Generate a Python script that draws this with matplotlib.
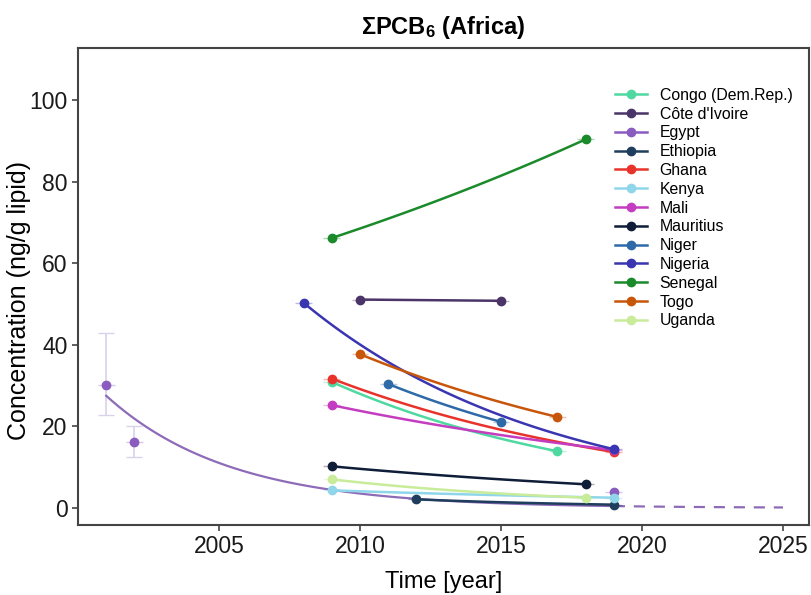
import numpy as np
import matplotlib
matplotlib.use("Agg")
import matplotlib.pyplot as plt
from matplotlib.lines import Line2D

plt.rcParams['font.family'] = ['Liberation Sans', 'DejaVu Sans']
plt.rcParams['mathtext.fontset'] = 'custom'
plt.rcParams['mathtext.rm'] = 'Liberation Sans'
plt.rcParams['mathtext.bf'] = 'Liberation Sans:bold'

countries = ['Congo (Dem.Rep.)', "Côte d'Ivoire", 'Egypt', 'Ethiopia', 'Ghana', 'Kenya',
             'Mali', 'Mauritius', 'Niger', 'Nigeria', 'Senegal', 'Togo', 'Uganda']
colors = ['#4fd8a0', '#4b3568', '#8a5cc0', '#1f3d5c', '#e8322a', '#8fd6ea',
          '#c43cc0', '#0f1d38', '#2e6aa8', '#3a35b0', '#1a8a2a', '#c8560a', '#c8ec9a']

# measured points (year, value) per country
years = {
    'Congo (Dem.Rep.)': [2009, 2017],
    "Côte d'Ivoire": [2010, 2015],
    'Egypt': [2001, 2002, 2019],
    'Ethiopia': [2012, 2019],
    'Ghana': [2009, 2019],
    'Kenya': [2009, 2019],
    'Mali': [2009, 2019],
    'Mauritius': [2009, 2018],
    'Niger': [2011, 2015],
    'Nigeria': [2008, 2019],
    'Senegal': [2009, 2018],
    'Togo': [2010, 2017],
    'Uganda': [2009, 2018],
}
values = {
    'Congo (Dem.Rep.)': [30.9, 13.9],
    "Côte d'Ivoire": [51.1, 50.8],
    'Egypt': [30.1, 16.1, 3.8],
    'Ethiopia': [2.1, 0.8],
    'Ghana': [31.7, 13.7],
    'Kenya': [4.3, 2.5],
    'Mali': [25.2, 14.2],
    'Mauritius': [10.2, 5.8],
    'Niger': [30.4, 21.1],
    'Nigeria': [50.3, 14.4],
    'Senegal': [66.2, 90.4],
    'Togo': [37.7, 22.3],
    'Uganda': [7.0, 2.5],
}
egypt_err_low = [22.7, 12.5]
egypt_err_high = [42.8, 20.0]

# Egypt trend: fitted part and projection (start/end)
egypt_fit_years = [2001, 2019]
egypt_fit_vals = [27.5, 0.45]
egypt_proj_years = [2019, 2025]
egypt_proj_vals = [0.45, 0.11]

fig = plt.figure(figsize=(8.11, 5.95), dpi=100)
ax = fig.add_axes([0.0962, 0.1176, 0.9013, 0.8017])

# Egypt trend curve
t = np.linspace(egypt_fit_years[0], egypt_fit_years[1], 80)
ax.plot(t, np.geomspace(egypt_fit_vals[0], egypt_fit_vals[1], 80), color='#8d6bb8', lw=1.6, zorder=2)
t = np.linspace(egypt_proj_years[0], egypt_proj_years[1], 40)
ax.plot(t, np.geomspace(egypt_proj_vals[0], egypt_proj_vals[1], 40), color='#8d6bb8', lw=1.6,
        ls=(0, (5, 4)), zorder=2)

for name, col in zip(countries, colors):
    x = years[name]
    y = values[name]
    if name != 'Egypt':
        t = np.linspace(x[0], x[-1], 60)
        ax.plot(t, np.geomspace(y[0], y[-1], 60), color=col, lw=1.8, zorder=3)
    ax.errorbar(x, y, xerr=0.3, fmt='none', ecolor=col, elinewidth=1, alpha=0.35, zorder=3)
    ax.plot(x, y, 'o', color=col, ms=6, zorder=4)

# Egypt vertical error bars
ey = values['Egypt'][:2]
ax.errorbar(years['Egypt'][:2], ey,
            yerr=[np.array(ey) - np.array(egypt_err_low), np.array(egypt_err_high) - np.array(ey)],
            fmt='none', ecolor='#d9d2ea', elinewidth=1.2, capsize=6, zorder=1)

ax.set_xlim(2000.0, 2025.92)
ax.set_ylim(-4.2, 112.8)
ax.set_xticks([2005, 2010, 2015, 2020, 2025])
ax.set_yticks([0, 20, 40, 60, 80, 100])
ax.tick_params(labelsize=16.5, length=4, width=1.2, color='#444444', labelcolor='#1a1a1a')
for s in ax.spines.values():
    s.set_color('#444444')
    s.set_linewidth(1.5)

ax.set_xlabel('Time [year]', fontsize=17, labelpad=9)
ax.set_ylabel('Concentration (ng/g lipid)', fontsize=18)
ax.yaxis.set_label_coords(-0.064, 0.47)
ax.set_title(r'$\mathbf{ΣPCB_6}$ (Africa)', fontsize=17, fontweight='bold', pad=10)

handles = [Line2D([0], [0], color=c, lw=1.8, marker='o', ms=6) for c in colors]
ax.legend(handles, countries, loc='upper left', bbox_to_anchor=(0.726, 0.93), frameon=False,
          fontsize=11.4, handlelength=2.0, labelspacing=0.24, handletextpad=0.82, borderaxespad=0)

fig.savefig('out.png', dpi=100)
